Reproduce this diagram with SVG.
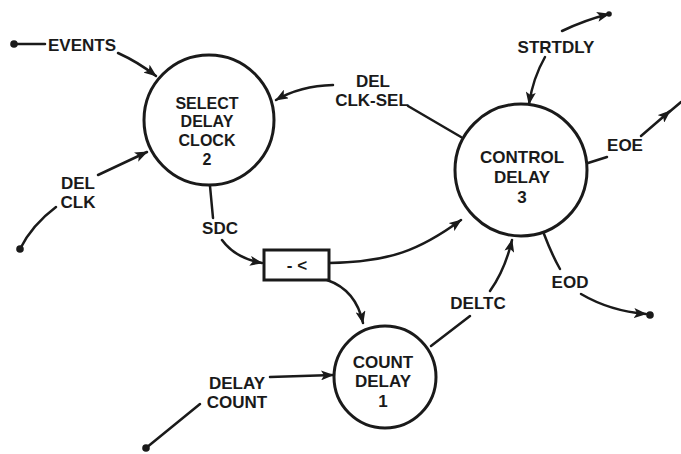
<svg xmlns="http://www.w3.org/2000/svg" width="681" height="454" viewBox="0 0 681 454">
  <defs>
    <marker id="arrow" markerUnits="userSpaceOnUse" markerWidth="14" markerHeight="10" refX="12" refY="5" orient="auto">
      <path d="M0,0 L13,5 L0,10 L3,5 z" fill="#1a1a1a"/>
    </marker>
    <marker id="dot" markerUnits="userSpaceOnUse" markerWidth="10" markerHeight="10" refX="5" refY="5">
      <circle cx="5" cy="5" r="3.8" fill="#1a1a1a"/>
    </marker>
  </defs>
  <style>
    .bubble { fill: #fff; stroke: #1a1a1a; stroke-width: 3; }
    .flow { fill: none; stroke: #1a1a1a; stroke-width: 2.5; stroke-linecap: round; }
    .arr { marker-end: url(#arrow); }
    text { font-family: "Liberation Sans", Arial, sans-serif; font-weight: bold; font-size: 17px; fill: #1a1a1a; text-anchor: middle; }
    .inner { font-size: 16px; }
  </style>
  <rect width="681" height="454" fill="#fff"/>

  <g id="connectors">
    <!-- EVENTS -->
    <path class="flow" d="M14,44 L45,44" marker-start="url(#dot)"/>
    <path class="flow arr" d="M118,53 Q138,62 156,76"/>
    <!-- DEL CLK -->
    <path class="flow arr" d="M98,175 L147,152"/>
    <path class="flow" d="M56,207 Q32,225 20,249" marker-end="url(#dot)"/>
    <!-- DEL CLK-SEL -->
    <path class="flow arr" d="M333,85 Q300,86 276,100"/>
    <path class="flow" d="M408,106 L461,137"/>
    <!-- STRTDLY -->
    <path class="flow arr" d="M562,31 Q585,20 609,14"/>
    <circle cx="609" cy="14" r="2.8" fill="#1a1a1a"/>
    <path class="flow arr" d="M545,57 Q533,78 529,104"/>
    <!-- EOE -->
    <path class="flow" d="M588,163 L607,157"/>
    <path class="flow arr" d="M641,136 L670,111"/>
    <path class="flow" d="M668,113 L681,102"/>
    <!-- EOD -->
    <path class="flow" d="M544,234 Q552,255 560,269"/>
    <path class="flow arr" d="M581,294 Q610,311 646,314"/>
    <circle cx="650" cy="315" r="3.8" fill="#1a1a1a"/>
    <!-- SDC -->
    <path class="flow" d="M210,186 L213,218"/>
    <path class="flow arr" d="M222,240 Q235,258 262,263"/>
    <!-- comparator outputs -->
    <path class="flow arr" d="M329,263 C390,262 420,250 461,220"/>
    <path class="flow arr" d="M327,280 Q356,290 363,323"/>
    <!-- DELTC -->
    <path class="flow" d="M431,346 L470,316"/>
    <path class="flow arr" d="M490,291 Q505,270 512,240"/>
    <!-- DELAY COUNT -->
    <path class="flow arr" d="M270,377 L333,375"/>
    <path class="flow" d="M200,404 L146,448" marker-end="url(#dot)"/>
  </g>

  <g id="labels">
    <text x="82" y="51">EVENTS</text>
    <text x="78" y="189">DEL</text>
    <text x="78" y="208">CLK</text>
    <text x="373" y="87">DEL</text>
    <text x="372" y="106">CLK-SEL</text>
    <text x="556" y="53">STRTDLY</text>
    <text x="625" y="151">EOE</text>
    <text x="570" y="288">EOD</text>
    <text x="220" y="234">SDC</text>
    <text x="478" y="309">DELTC</text>
    <text x="237" y="389">DELAY</text>
    <text x="237" y="408">COUNT</text>
  </g>

  <g id="select-delay-clock">
    <circle class="bubble" cx="209" cy="120" r="65"/>
    <text class="inner" x="207" y="109">SELECT</text>
    <text class="inner" x="207" y="127">DELAY</text>
    <text class="inner" x="207" y="146">CLOCK</text>
    <text class="inner" x="207" y="165">2</text>
  </g>

  <g id="control-delay">
    <circle class="bubble" cx="521" cy="170" r="66"/>
    <text x="522" y="163">CONTROL</text>
    <text x="522" y="183">DELAY</text>
    <text x="522" y="203">3</text>
  </g>

  <g id="count-delay">
    <circle class="bubble" cx="385" cy="377" r="51"/>
    <text x="383" y="368">COUNT</text>
    <text x="383" y="387">DELAY</text>
    <text x="383" y="407">1</text>
  </g>

  <g id="comparator">
    <rect x="264" y="250" width="65" height="30" fill="#fff" stroke="#1a1a1a" stroke-width="3"/>
    <text x="297" y="271">- &lt;</text>
  </g>
</svg>
